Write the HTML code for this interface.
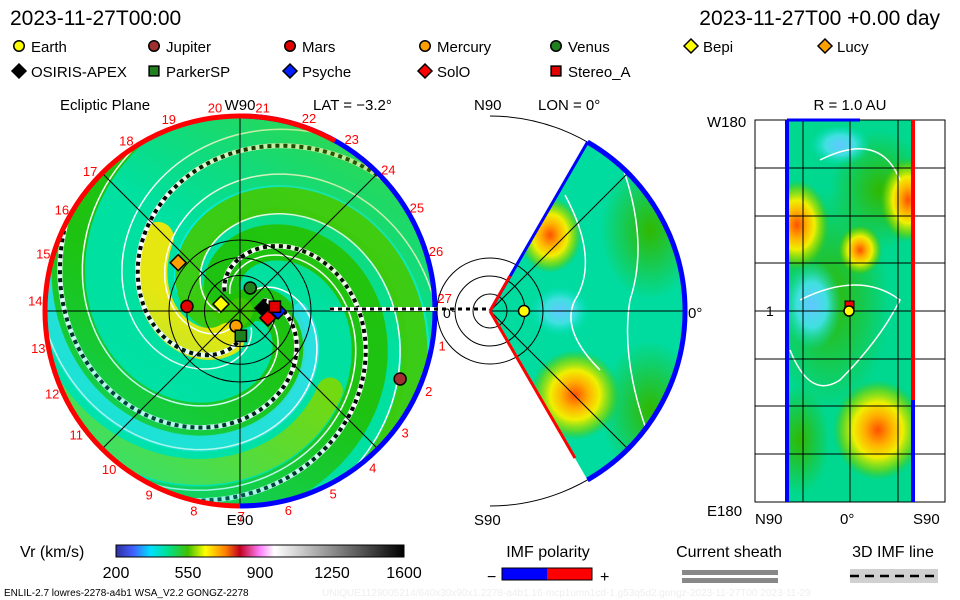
<!DOCTYPE html>
<html><head><meta charset="utf-8"><style>
body{margin:0;background:#fff;}
svg{display:block;font-family:"Liberation Sans",sans-serif;}
</style></head><body>
<svg width="960" height="600" viewBox="0 0 960 600" id="chart">
<defs>
<clipPath id="eclip"><circle cx="240" cy="311" r="195"/></clipPath>
<clipPath id="wclip"><path d="M490,311 L587.5,142.1 A195,195 0 0 1 587.5,479.9 Z"/></clipPath>
<clipPath id="rclip"><rect x="785" y="120" width="130" height="382"/></clipPath>
<linearGradient id="cbar" x1="0" x2="1">
<stop offset="0" stop-color="#3030a0"/><stop offset="0.06" stop-color="#4060ff"/><stop offset="0.12" stop-color="#00e0ff"/>
<stop offset="0.18" stop-color="#00e090"/><stop offset="0.25" stop-color="#40c000"/><stop offset="0.31" stop-color="#ffff00"/>
<stop offset="0.38" stop-color="#ff8000"/><stop offset="0.43" stop-color="#c00020"/><stop offset="0.5" stop-color="#ff80ff"/>
<stop offset="0.55" stop-color="#ffffff"/><stop offset="1" stop-color="#000000"/></linearGradient>
<linearGradient id="tint" x1="0.2" y1="1" x2="0.8" y2="0">
<stop offset="0" stop-color="#00e8d0" stop-opacity="0.55"/><stop offset="0.45" stop-color="#00e0a0" stop-opacity="0"/>
<stop offset="0.6" stop-color="#40c800" stop-opacity="0"/><stop offset="1" stop-color="#60d000" stop-opacity="0.55"/></linearGradient>
<radialGradient id="blobY"><stop offset="0" stop-color="#ff5000"/><stop offset="0.3" stop-color="#ffb000"/><stop offset="0.55" stop-color="#f0f000"/><stop offset="0.8" stop-color="#80d800" stop-opacity="0.7"/><stop offset="1" stop-color="#40c000" stop-opacity="0"/></radialGradient>
<radialGradient id="blobB"><stop offset="0" stop-color="#60c8ff"/><stop offset="0.5" stop-color="#40e0e0"/><stop offset="1" stop-color="#00e0c0" stop-opacity="0"/></radialGradient>
<radialGradient id="blobG"><stop offset="0" stop-color="#30b800"/><stop offset="1" stop-color="#30b800" stop-opacity="0"/></radialGradient>
</defs>

<text x="10" y="25" font-size="21">2023-11-27T00:00</text>
<text x="940" y="25" font-size="21" text-anchor="end">2023-11-27T00 +0.00 day</text>

<g id="legend" font-size="15"></g>

<!-- Ecliptic panel -->
<g>
<text x="60" y="110" font-size="15">Ecliptic Plane</text>
<text x="240" y="110" font-size="15" text-anchor="middle">W90</text>
<text x="313" y="110" font-size="15">LAT = −3.2°</text>
<text x="240" y="525" font-size="15" text-anchor="middle">E90</text>
<circle cx="240" cy="311" r="195" fill="#00e0a0"/>
<g clip-path="url(#eclip)" id="spirals"></g>
<circle cx="240" cy="311" r="195" fill="url(#tint)"/>
<g id="eclGrid" stroke="#000" stroke-width="1" fill="none"></g>
<path d="M240,116 A195,195 0 0 0 240,506" stroke="#f00" stroke-width="5" fill="none"/>
<path d="M240,116 A195,195 0 0 1 240,506" stroke="#00f" stroke-width="5" fill="none"/>
<path d="M240,116 A195,195 0 0 1 335,141" stroke="#f00" stroke-width="5" fill="none"/>
<g id="carr" font-size="13" fill="#f00"></g>
<path d="M330,309 L490,309" stroke="#fff" stroke-width="4"/>
<path d="M330,309 L490,309" stroke="#000" stroke-width="3" stroke-dasharray="4,4"/>
<g id="eclBodies"></g>
</g>

<!-- Meridional wedge -->
<g>
<text x="474" y="110" font-size="15">N90</text>
<text x="538" y="110" font-size="15">LON = 0°</text>
<text x="474" y="525" font-size="15">S90</text>
<text x="688" y="318" font-size="15">0°</text>
<text x="443" y="318" font-size="14">0°</text>
<path d="M490,116 A195,195 0 0 1 490,506" stroke="#000" fill="none"/>
<path d="M490,311 L587.5,142.1 A195,195 0 0 1 587.5,479.9 Z" fill="#00dca0"/>
<g clip-path="url(#wclip)">
<ellipse cx="650" cy="230" rx="50" ry="70" fill="url(#blobG)"/>
<ellipse cx="650" cy="410" rx="50" ry="70" fill="url(#blobG)"/>
<ellipse cx="550" cy="235" rx="32" ry="38" fill="url(#blobY)"/>
<ellipse cx="575" cy="395" rx="45" ry="45" fill="url(#blobY)"/>
<ellipse cx="560" cy="311" rx="30" ry="25" fill="url(#blobB)"/>
<path d="M565,195 Q600,260 575,300 Q560,330 600,370" stroke="#fff" fill="none" stroke-width="1.5"/>
<path d="M620,160 Q650,240 630,300 Q620,360 650,440" stroke="#fff" fill="none" stroke-width="1.5"/>
</g>
<g stroke="#000" fill="none">
<circle cx="490" cy="311" r="17"/><circle cx="490" cy="311" r="35"/><circle cx="490" cy="311" r="53"/>
<line x1="490" y1="311" x2="685" y2="311"/><line x1="490" y1="311" x2="628" y2="173"/><line x1="490" y1="311" x2="628" y2="449"/>
</g>
<path d="M587.5,142.1 A195,195 0 0 1 587.5,479.9" stroke="#00f" stroke-width="5" fill="none"/>
<path d="M490,311 L587.5,142.1" stroke="#00f" stroke-width="3"/>
<path d="M490,311 L575,458" stroke="#f00" stroke-width="3"/>
<path d="M490,311 L510,276" stroke="#f00" stroke-width="3"/>
<circle cx="524" cy="311" r="5.5" fill="#ff0" stroke="#000" stroke-width="1.5"/>
</g>

<!-- Right panel -->
<g>
<text x="850" y="110" font-size="15" text-anchor="middle">R = 1.0 AU</text>
<text x="707" y="127" font-size="15">W180</text>
<text x="707" y="516" font-size="15">E180</text>
<text x="766" y="316" font-size="14">1</text>
<text x="755" y="524" font-size="15">N90</text>
<text x="840" y="524" font-size="15">0°</text>
<text x="913" y="524" font-size="15">S90</text>
<rect x="785" y="120" width="130" height="382" fill="#00d890"/>
<g clip-path="url(#rclip)">
<ellipse cx="830" cy="300" rx="60" ry="110" fill="url(#blobG)"/>
<ellipse cx="880" cy="190" rx="50" ry="60" fill="url(#blobG)"/>
<ellipse cx="800" cy="440" rx="30" ry="55" fill="url(#blobG)"/>
<ellipse cx="878" cy="430" rx="45" ry="50" fill="url(#blobY)"/>
<ellipse cx="797" cy="225" rx="32" ry="45" fill="url(#blobY)"/>
<ellipse cx="908" cy="200" rx="28" ry="42" fill="url(#blobY)"/>
<ellipse cx="860" cy="250" rx="22" ry="25" fill="url(#blobY)"/>
<ellipse cx="812" cy="305" rx="30" ry="45" fill="url(#blobB)"/>
<ellipse cx="840" cy="145" rx="30" ry="20" fill="url(#blobB)"/>
<path d="M800,300 Q860,270 900,300 Q880,340 840,380 Q810,400 790,350" stroke="#fff" fill="none" stroke-width="1.5"/>
<path d="M820,160 Q880,130 900,180" stroke="#fff" fill="none" stroke-width="1.5"/>
</g>
<g stroke="#000" stroke-width="1">
<rect x="755" y="120" width="190" height="382" fill="none"/>
<line x1="755" y1="168" x2="945" y2="168"/><line x1="755" y1="216" x2="945" y2="216"/><line x1="755" y1="263" x2="945" y2="263"/>
<line x1="755" y1="311" x2="945" y2="311"/><line x1="755" y1="359" x2="945" y2="359"/><line x1="755" y1="406" x2="945" y2="406"/>
<line x1="755" y1="454" x2="945" y2="454"/>
<line x1="803" y1="120" x2="803" y2="502"/><line x1="850" y1="120" x2="850" y2="502"/><line x1="898" y1="120" x2="898" y2="502"/>
</g>
<path d="M787,120 L787,502" stroke="#00f" stroke-width="4"/>
<path d="M913,120 L913,400" stroke="#f00" stroke-width="4"/>
<path d="M913,400 L913,502" stroke="#00f" stroke-width="4"/>
<path d="M787,120 L860,120" stroke="#00f" stroke-width="3"/>
<rect x="845" y="301" width="9" height="9" fill="#e00" stroke="#000"/>
<circle cx="849" cy="311" r="5" fill="#ff0" stroke="#000" stroke-width="1.5"/>
</g>

<!-- Colorbar and keys -->
<g>
<text x="20" y="557" font-size="16">Vr (km/s)</text>
<rect x="116" y="545" width="288" height="12" fill="url(#cbar)" stroke="#000"/>
<g id="cbTicks" font-size="16" text-anchor="middle"></g>
</g>
<g>
<text x="548" y="557" font-size="16" text-anchor="middle">IMF polarity</text>
<text x="487" y="582" font-size="16">−</text>
<rect x="502" y="568" width="45" height="12" fill="#00f"/><rect x="547" y="568" width="45" height="12" fill="#f00"/>
<rect x="502" y="568" width="90" height="12" fill="none" stroke="#000"/>
<text x="600" y="582" font-size="16">+</text>
</g>
<g>
<text x="729" y="557" font-size="16" text-anchor="middle">Current sheath</text>
<rect x="682" y="570" width="96" height="5" fill="#888"/><rect x="682" y="578" width="96" height="5" fill="#888"/>
</g>
<g>
<text x="893" y="557" font-size="16" text-anchor="middle">3D IMF line</text>
<rect x="850" y="569" width="88" height="14" fill="#d0d0d0"/>
<line x1="850" y1="576" x2="938" y2="576" stroke="#000" stroke-width="2.5" stroke-dasharray="9,6"/>
</g>
<text x="4" y="596" font-size="10">ENLIL-2.7 lowres-2278-a4b1 WSA_V2.2 GONGZ-2278</text>
<text x="322" y="596" font-size="10" fill="#eee">UNIQUE1129005214/640x30x90x1.2278-a4b1.16-mcp1umn1cd-1.g53q5d2.gongz-2023-11-27T00   2023-11-29</text>
</svg>
<script>
const NS="http://www.w3.org/2000/svg";
const cx=240, cy=311, pxPerAU=35.5;
// Legend
const legendNames=["Earth","Jupiter","Mars","Mercury","Venus","Bepi","Lucy","OSIRIS-APEX","ParkerSP","Psyche","SolO","Stereo_A"];
const legendShapes=["circle","circle","circle","circle","circle","diamond","diamond","diamond","square","diamond","diamond","square"];
const legendColors=["#ffff00","#a03030","#e00000","#ffa000","#208020","#ffff00","#ffa000","#000000","#208020","#0020ff","#ff0000","#e00000"];
// Bodies in ecliptic plane: radius AU, angle deg (CCW from +x)
const bodyR=[0.98,4.9,1.5,0.44,0.71,0.57,2.21,0.65,0.70,1.07,0.81,0.99];
const bodyA=[-2,-23,175,-105,66,160,142,7,-88,0,-14,7];
// Colorbar ticks
const cbVals=[200,550,900,1250,1600];
// Carrington numbers around rim
const carrLabels=["20","21","22","23","24","25","26","27","1","2","3","4","5","6","7","8","9","10","11","12","13","14","15","16","17","18","19"];

function mk(tag,attrs,parent){const e=document.createElementNS(NS,tag);for(const k in attrs)e.setAttribute(k,attrs[k]);parent.appendChild(e);return e;}
function shape(parent,type,x,y,s,color){
  let e;
  if(type==="circle") e=mk("circle",{cx:x,cy:y,r:s*0.75,fill:color,stroke:"#000","stroke-width":1.5},parent);
  else if(type==="square") e=mk("rect",{x:x-s*0.7,y:y-s*0.7,width:s*1.4,height:s*1.4,fill:color,stroke:"#000","stroke-width":1.5},parent);
  else e=mk("polygon",{points:`${x},${y-s} ${x+s},${y} ${x},${y+s} ${x-s},${y}`,fill:color,stroke:"#000","stroke-width":1.5},parent);
  return e;
}
const leg=document.getElementById("legend");
const colX=[12,147,283,418,549,684,818];
legendNames.forEach((n,i)=>{
  const row=i<7?0:1, col=i<7?i:i-7;
  const x=colX[col], y=row?72:47;
  const g=mk("g",{},leg);
  
  
  shape(g,legendShapes[i],x+7,y-1,7,legendColors[i]);
  const t=mk("text",{x:x+19,y:y+5},g); t.textContent=n;
});
// Spirals
const sp=document.getElementById("spirals");
function spiralPath(phi0,r0,r1,k){let d="";for(let r=r0;r<=r1;r+=2){const p=phi0+r/k;const x=cx+r*Math.cos(p),y=cy+r*Math.sin(p);d+=(d?"L":"M")+x.toFixed(1)+","+y.toFixed(1);}return d;}
const k=42;
const base=1.25;
const bands=[
 {p:base+2.1,w:36,c:"#20c000",r0:0,r1:300},{p:base+4.2,w:34,c:"#20c000",r0:0,r1:300},
 {p:base+0.9,w:22,c:"#00f0f0",r0:60,r1:300},{p:base+3.6,w:16,c:"#30e0e8",r0:60,r1:300},
 {p:base+1.0,w:26,c:"#40c800",r0:0,r1:300},
 {p:base+2.9,w:26,c:"#80d800",r0:120,r1:300},
 {p:base,w:32,c:"#ffe800",r0:30,r1:110}];
bands.forEach((b,i)=>{const e=mk("path",{d:spiralPath(b.p,b.r0,b.r1,k),stroke:b.c,"stroke-width":b.w,fill:"none","stroke-opacity":0.9,"stroke-linecap":"round"},sp);
 });
[0.5,1.6,2.6,3.7,4.7,5.8].forEach(p=>{mk("path",{d:spiralPath(p,20,300,k),stroke:"#fff","stroke-width":1.5,fill:"none"},sp);});
[base-0.35,base+2.2,base+4.0].forEach(p=>{
  mk("path",{d:spiralPath(p,25,240,k),stroke:"#fff","stroke-width":5,fill:"none"},sp);
  const e=mk("path",{d:spiralPath(p,25,240,k),stroke:"#000","stroke-width":4,fill:"none","stroke-dasharray":"4,4"},sp);
  
});
// Grid
const gr=document.getElementById("eclGrid");
[1,1.5,2].forEach(a=>mk("circle",{cx:cx,cy:cy,r:a*pxPerAU},gr));
mk("line",{x1:cx-195,y1:cy,x2:cx+195,y2:cy},gr);mk("line",{x1:cx,y1:cy-195,x2:cx,y2:cy+195},gr);
mk("line",{x1:cx-138,y1:cy-138,x2:cx+138,y2:cy+138},gr);mk("line",{x1:cx-138,y1:cy+138,x2:cx+138,y2:cy-138},gr);
// Carrington labels
const ca=document.getElementById("carr");
carrLabels.forEach((l,i)=>{const a=(-97*Math.PI/180)+i*2*Math.PI/27;const x=cx+205*Math.cos(a),y=cy+205*Math.sin(a)+5;
  const t=mk("text",{x:x.toFixed(1),y:y.toFixed(1),"text-anchor":"middle"},ca);t.textContent=l;});
// Bodies
const eb=document.getElementById("eclBodies");
bodyR.forEach((r,i)=>{const a=bodyA[i]*Math.PI/180;const x=cx+r*pxPerAU*Math.cos(a),y=cy-r*pxPerAU*Math.sin(a);
  const e=shape(eb,legendShapes[i],x,y,8,legendColors[i]);
  });
// Colorbar ticks
const cb=document.getElementById("cbTicks");
cbVals.forEach(v=>{const x=116+(v-200)/(1600-200)*288;const t=mk("text",{x:x,y:578},cb);t.textContent=v;});
</script>
</body></html>
